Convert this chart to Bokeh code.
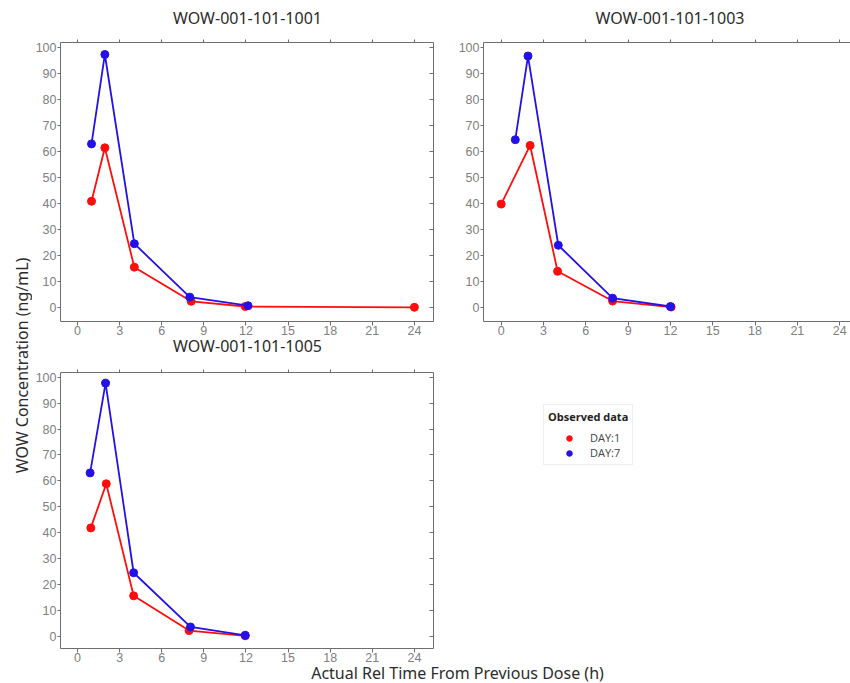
import math
from bokeh.plotting import figure
from bokeh.models import LinearAxis, FixedTicker, Range1d, Label, Legend, LegendItem
from bokeh.layouts import row, column
from bokeh.embed import file_html
from bokeh.resources import INLINE

# ---------------- data ----------------
subjects = ["WOW-001-101-1001", "WOW-001-101-1003", "WOW-001-101-1005"]
series_labels = ["DAY:1", "DAY:7"]

t_1001_d1 = [1.0, 1.95, 4.05, 8.1, 11.95, 24.0]
c_1001_d1 = [40.9, 61.4, 15.6, 2.5, 0.5, 0.2]
t_1001_d7 = [1.0, 1.95, 4.05, 8.0, 12.15]
c_1001_d7 = [62.9, 97.2, 24.6, 4.1, 0.8]

t_1003_d1 = [0.0, 2.05, 4.0, 7.9, 12.05]
c_1003_d1 = [39.8, 62.3, 14.0, 2.6, 0.3]
t_1003_d7 = [1.0, 1.9, 4.05, 7.9, 12.0]
c_1003_d7 = [64.5, 96.6, 24.0, 3.7, 0.5]

t_1005_d1 = [0.95, 2.05, 4.0, 7.95, 11.95]
c_1005_d1 = [41.9, 58.9, 15.7, 2.3, 0.3]
t_1005_d7 = [0.9, 2.0, 4.0, 8.05, 11.95]
c_1005_d7 = [63.1, 97.7, 24.6, 3.7, 0.5]

x_ticks = [0, 3, 6, 9, 12, 15, 18, 21, 24]
y_ticks = [0, 10, 20, 30, 40, 50, 60, 70, 80, 90, 100]

y_title = "WOW Concentration (ng/mL)"
x_title = "Actual Rel Time From Previous Dose (h)"
legend_title = "Observed data"

# ---------------- style ----------------
RED = "#ff0d0d"
BLUE = "#2411e8"
AXIS_COLOR = "#6e6e6e"
TICK_LABEL_COLOR = "#808080"
TEXT_COLOR = "#2b2b2b"
TITLE_FONT = "Noto Sans"
TICK_FONT = "Liberation Sans"


def style_axis(ax, ticks, labels=True, tick_in=0, tick_out=3, standoff=4):
    ax.ticker = FixedTicker(ticks=ticks)
    ax.axis_line_color = AXIS_COLOR
    ax.axis_line_width = 1
    ax.major_tick_line_color = AXIS_COLOR
    ax.minor_tick_line_color = None
    ax.major_tick_in = tick_in
    ax.major_tick_out = tick_out
    ax.major_label_standoff = standoff
    ax.major_label_text_font = TICK_FONT
    ax.major_label_text_color = TICK_LABEL_COLOR
    if labels:
        ax.major_label_text_font_size = "12.5px"
    else:
        ax.major_label_text_font_size = "1px"
        ax.major_label_overrides = {t: "" for t in ticks}


def blank_figure(width, height, xr=(0, 1), yr=(0, 1)):
    f = figure(width=width, height=height, x_range=Range1d(*xr), y_range=Range1d(*yr),
               output_backend="svg", toolbar_location=None, min_border=0,
               x_axis_location=None, y_axis_location=None)
    f.outline_line_color = None
    f.xgrid.visible = False
    f.ygrid.visible = False
    f.background_fill_color = "white"
    f.border_fill_color = "white"
    return f


def text_label(x, y, text, angle=0.0):
    return Label(x=x, y=y, x_units="screen", y_units="screen", text=text, angle=angle,
                 text_align="center", text_baseline="middle",
                 text_font=TITLE_FONT, text_font_size="16px", text_color=TEXT_COLOR)


def make_panel(width, height, bl, br, bt, bb, xr, yr, right_axis=True):
    p = figure(width=width, height=height,
               x_range=Range1d(*xr), y_range=Range1d(*yr),
               output_backend="svg", toolbar_location=None,
               min_border_left=bl, min_border_right=br,
               min_border_top=bt, min_border_bottom=bb)
    p.outline_line_color = None
    p.background_fill_color = "white"
    p.border_fill_color = "white"
    p.xgrid.visible = False
    p.ygrid.visible = False
    style_axis(p.below[0], x_ticks, labels=True, tick_out=4, standoff=0)
    style_axis(p.left[0], y_ticks, labels=True, tick_out=3, standoff=1)
    top = LinearAxis()
    style_axis(top, x_ticks, labels=False, tick_out=3, standoff=0)
    p.add_layout(top, "above")
    if right_axis:
        rax = LinearAxis()
        style_axis(rax, y_ticks, labels=False, tick_in=4, tick_out=0, standoff=0)
        p.add_layout(rax, "right")
    return p


def add_series(p, t1, c1, t7, c7):
    p.line(t1, c1, line_color=RED, line_width=1.8)
    p.scatter(t1, c1, size=8, fill_color=RED, line_color=RED)
    p.line(t7, c7, line_color=BLUE, line_width=1.8)
    p.scatter(t7, c7, size=8, fill_color=BLUE, line_color=BLUE)


YR_TOP = (-5.25, 101.8)
YR_BOT = (-4.6, 101.8)

# titles of the first row
t12 = blank_figure(818, 36)
t12.add_layout(text_label(215, 18.5, subjects[0]))
t12.add_layout(text_label(637.5, 18.5, subjects[1]))

# row 1
p1 = make_panel(415, 303, 28, 14, 6, 18, (-1.21, 25.36), YR_TOP)
add_series(p1, t_1001_d1, c_1001_d1, t_1001_d7, c_1001_d7)

p2 = make_panel(403, 303, 36, 0, 6, 18, (-1.255, 24.77), YR_TOP, right_axis=False)
add_series(p2, t_1003_d1, c_1003_d1, t_1003_d7, c_1003_d7)

# title of the third panel
t3 = blank_figure(818, 19)
t3.add_layout(text_label(215, 12.4, subjects[2]))

# row 2
p3 = make_panel(428, 308, 28, 27, 14, 18, (-1.21, 25.36), YR_BOT)
add_series(p3, t_1005_d1, c_1005_d1, t_1005_d7, c_1005_d7)

# legend panel: its key renderers hold the panel's data but lie outside this view
lg = blank_figure(390, 308, xr=(-100, -99), yr=(-100, -99))
k1 = lg.scatter(t_1005_d1, c_1005_d1, size=8, fill_color=RED, line_color=RED)
k7 = lg.scatter(t_1005_d7, c_1005_d7, size=8, fill_color=BLUE, line_color=BLUE)
legend = Legend(items=[LegendItem(label=series_labels[0], renderers=[k1]),
                       LegendItem(label=series_labels[1], renderers=[k7])],
                location=(83, 183), margin=0, padding=4, spacing=0,
                title=legend_title, title_text_font="Open Sans",
                title_text_font_style="bold", title_text_font_size="11px",
                title_text_color="#222222", title_standoff=6,
                label_text_font="Open Sans", label_text_font_size="11px",
                label_text_color="#444444", label_standoff=0,
                glyph_width=42, glyph_height=14, label_height=14,
                border_line_color="#dddddd", border_line_width=1,
                background_fill_color="white", background_fill_alpha=1.0)
lg.add_layout(legend, "center")

# shared x title strip
xl = blank_figure(818, 17)
xl.add_layout(text_label(425, 10.7, x_title))

# shared y title strip
yl = blank_figure(32, 683)
yl.add_layout(text_label(21.5, 318, y_title, angle=math.pi / 2))

layout = row(yl, column(t12, row(p1, p2), t3, row(p3, lg), xl))

open("out.html", "w").write(file_html(layout, INLINE))
